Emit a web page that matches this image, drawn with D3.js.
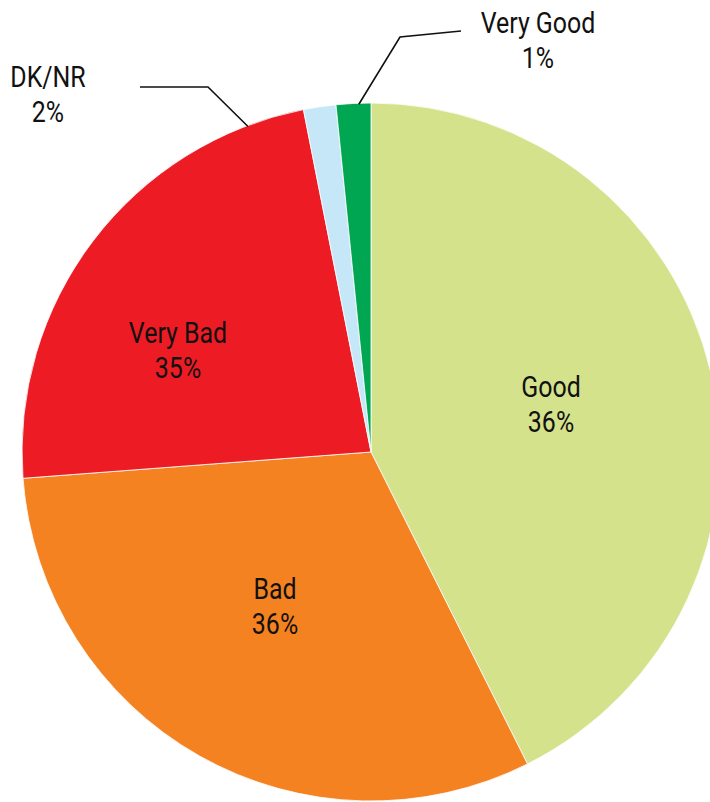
<!DOCTYPE html>
<html><head><meta charset="utf-8">
<script src="https://cdn.jsdelivr.net/npm/d3@7"></script>
<style>body{margin:0;background:#fff;}svg{display:block;}</style>
</head><body>
<svg id="chart" width="710" height="802"></svg>
<script>
const categories = ["Good", "Bad", "Very Bad", "DK/NR", "Very Good"];
const sliceValues = [42.6, 31.2, 23.1, 1.5, 1.6];
const labelPercents = ["36%", "36%", "35%", "2%", "1%"];
const colors = ["#d3e28b", "#f58220", "#ed1c24", "#c6e7f7", "#00a651"];

const svg = d3.select("#chart");
const cx = 371, cy = 452, R = 349;
const g = svg.append("g").attr("transform", `translate(${cx},${cy})`);

const pie = d3.pie().sort(null).value(d => d.v);
const data = categories.map((c, i) => ({c, v: sliceValues[i], p: labelPercents[i], col: colors[i]}));
const arcs = pie(data);
const arc = d3.arc().innerRadius(0).outerRadius(R);

g.selectAll("path.slice").data(arcs).enter().append("path")
  .attr("class", "slice")
  .attr("d", arc)
  .attr("fill", d => d.data.col)
  .attr("stroke", "#fff")
  .attr("stroke-width", 0.8);

const inside = {
  "Good":     [180, -55],
  "Bad":      [-96, 147],
  "Very Bad": [-193, -109]
};
// leader start given as angle (deg, clockwise from top) on the rim
const outside = {
  "Very Good": {text: [167, -419], startDeg: -2.0, line: [[29, -415], [90, -421]]},
  "DK/NR":     {text: [-323, -365], startDeg: -20.7, line: [[-163, -365], [-231, -365]]}
};

function addLabel(x, y, d) {
  const t = g.append("g").attr("transform", `translate(${x},${y}) scale(0.86,1)`);
  t.append("text").attr("text-anchor", "middle").attr("y", 0)
    .attr("font-family", "Roboto, 'Liberation Sans', sans-serif")
    .attr("font-size", 29).attr("fill", "#111").text(d.data.c);
  t.append("text").attr("text-anchor", "middle").attr("y", 35)
    .attr("font-family", "Roboto, 'Liberation Sans', sans-serif")
    .attr("font-size", 29).attr("fill", "#111").text(d.data.p);
}

arcs.forEach(d => {
  const name = d.data.c;
  if (inside[name]) {
    addLabel(inside[name][0], inside[name][1], d);
  } else {
    const o = outside[name];
    const a = o.startDeg * Math.PI / 180;
    const pts = [[Math.sin(a) * (R - 1), -Math.cos(a) * (R - 1)], ...o.line];
    g.append("path")
      .attr("d", d3.line()(pts))
      .attr("fill", "none").attr("stroke", "#111").attr("stroke-width", 1.6);
    addLabel(o.text[0], o.text[1], d);
  }
});
</script>
</body></html>
